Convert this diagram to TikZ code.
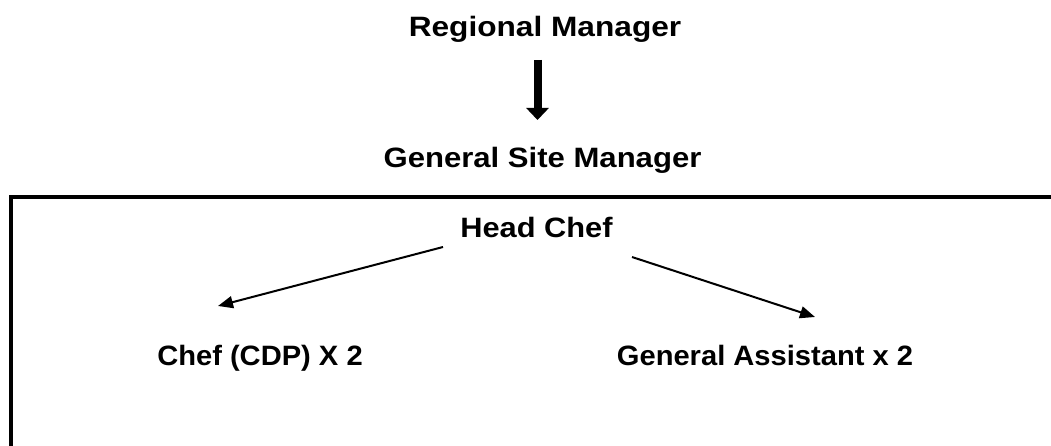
\documentclass[tikz,border=0pt]{standalone}
\usepackage{fontspec}
\setmainfont{Liberation Sans}
\usetikzlibrary{arrows.meta}
\tikzset{
  lbl/.style={font=\fontsize{28}{32}\selectfont\bfseries, inner sep=0pt, anchor=base},
  thin arrow/.style={line width=2pt, -{Triangle[width=12pt,length=15pt]}},
  big arrow/.style={line width=8pt, -{Triangle[width=22pt,length=12pt]}},
  frame/.style={line width=4pt}
}
\begin{document}
\begin{tikzpicture}[x=1pt,y=-1pt]
\useasboundingbox (0,0) rectangle (1051,446);
\clip (0,0) rectangle (1051,446);
\node[lbl] (rm) at (545,37) {\scalebox{1.13}[1]{Regional Manager}};
\node[lbl] (gsm) at (542.5,168) {\scalebox{1.11}[1]{General Site Manager}};
\node[lbl] (hc) at (536.5,238) {\scalebox{1.10}[1]{Head Chef}};
\node[lbl] (cdp) at (260,365) {\scalebox{1.04}[1]{Chef (CDP) X 2}};
\node[lbl] (ga) at (765,365) {\scalebox{1.04}[1]{General Assistant x 2}};
\coordinate (a1s) at (537.5,60);
\coordinate (a1e) at (537.5,120);
\coordinate (a2s) at (443,247);
\coordinate (a2e) at (218,306);
\coordinate (a3s) at (632,257);
\coordinate (a3e) at (815,317);
\draw[big arrow] (a1s) -- (a1e);
\draw[thin arrow] (a2s) -- (a2e);
\draw[thin arrow] (a3s) -- (a3e);
\draw[frame] (1070,197.5) -- (10.5,197.5) -- (10.5,470);
\end{tikzpicture}
\end{document}
